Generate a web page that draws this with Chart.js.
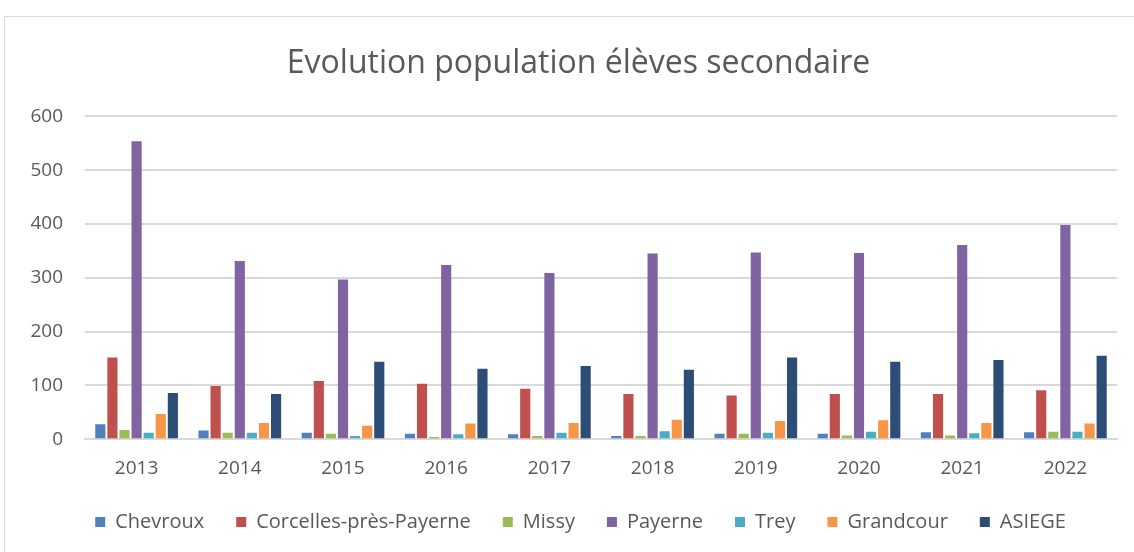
<!DOCTYPE html>
<html>
<head>
<meta charset="utf-8">
<script src="https://cdn.jsdelivr.net/npm/chart.js@4/dist/chart.umd.min.js"></script>
<style>
  html, body { margin: 0; padding: 0; background: #fff; }
  #wrap { position: relative; width: 1134px; height: 552px; overflow: hidden; }
  #frame { position: absolute; left: 4px; top: 16px; width: 1140px; height: 560px; border: 1px solid #d9d9d9; box-sizing: border-box; }
  canvas { position: absolute; left: 0; top: 0; }
</style>
</head>
<body>
<div id="wrap">
  <div id="frame"></div>
  <canvas id="chart" width="1134" height="552"></canvas>
</div>
<script>
const years = ['2013', '2014', '2015', '2016', '2017', '2018', '2019', '2020', '2021', '2022'];
const yTicks = [0, 100, 200, 300, 400, 500, 600];

const chevroux = [28, 16, 12, 10, 9, 6, 10, 10, 13, 13];
const corcelles = [152, 99, 108, 103, 94, 84, 81, 84, 84, 91];
const missy = [17, 12, 10, 4, 6, 6, 10, 7, 7, 14];
const payerne = [554, 331, 297, 324, 309, 345, 347, 346, 361, 398];
const trey = [12, 12, 6, 9, 12, 15, 12, 14, 11, 14];
const grandcour = [47, 30, 25, 29, 30, 36, 34, 35, 30, 29];
const asiege = [86, 84, 144, 131, 136, 129, 152, 144, 147, 155];

const textColor = '#595959';
const fontFamily = "'Open Sans', 'Noto Sans', sans-serif";

function series(label, data, color) {
  return {
    label,
    data,
    backgroundColor: color,
    borderWidth: 0,
    categoryPercentage: 0.82,
    barPercentage: 0.84,
  };
}

// title and legend sit centred on the plot, not on the whole canvas
const shiftBlocks = {
  id: 'shiftBlocks',
  afterLayout(chart) {
    chart.titleBlock.left += 20;
    chart.titleBlock.right += 20;
    chart.legend.left += 22;
    chart.legend.right += 22;
  },
};

new Chart(document.getElementById('chart'), {
  type: 'bar',
  data: {
    labels: years,
    datasets: [
      series('Chevroux', chevroux, '#4F81BD'),
      series('Corcelles-près-Payerne', corcelles, '#C0504D'),
      series('Missy', missy, '#9BBB59'),
      series('Payerne', payerne, '#8064A2'),
      series('Trey', trey, '#4BACC6'),
      series('Grandcour', grandcour, '#F79646'),
      series('ASIEGE', asiege, '#2C4D75'),
    ],
  },
  plugins: [shiftBlocks],
  options: {
    responsive: false,
    animation: false,
    layout: { padding: { left: 0, right: 17, top: 0, bottom: 10 } },
    plugins: {
      title: {
        display: true,
        text: 'Evolution population élèves secondaire',
        color: textColor,
        font: { family: fontFamily, size: 32, weight: 'normal' },
        padding: { top: 45, bottom: 33 },
      },
      legend: {
        position: 'bottom',
        labels: {
          color: textColor,
          font: { family: fontFamily, size: 20 },
          boxWidth: 10,
          boxHeight: 10,
          padding: 32,
        },
      },
      tooltip: { enabled: false },
    },
    scales: {
      x: {
        grid: { display: false },
        border: { color: '#d9d9d9', width: 2 },
        ticks: { color: textColor, font: { family: fontFamily, size: 19 }, padding: 10 },
        afterFit: (scale) => { scale.height -= 10; },
      },
      y: {
        min: 0,
        max: 600,
        afterFit: (scale) => { scale.width = 85; },
        afterBuildTicks: (scale) => { scale.ticks = yTicks.map((v) => ({ value: v })); },
        grid: { color: '#d9d9d9', lineWidth: 2, drawTicks: false },
        border: { display: false },
        ticks: { color: textColor, font: { family: fontFamily, size: 19 }, padding: 22 },
      },
    },
  },
});
</script>
</body>
</html>
